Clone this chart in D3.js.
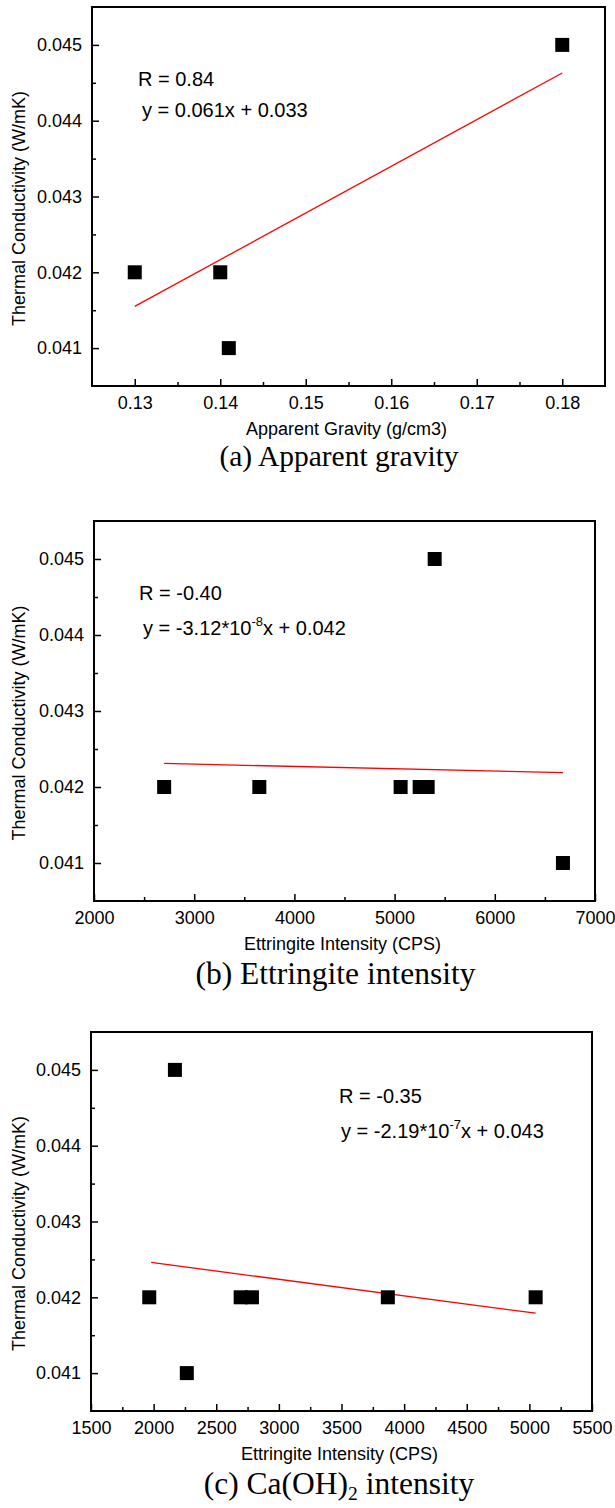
<!DOCTYPE html>
<html>
<head>
<meta charset="utf-8">
<script src="https://cdn.jsdelivr.net/npm/d3@7"></script>
<style>
  body { margin: 0; background: #fff; }
  .tick text { font-family: Arial, "Liberation Sans", sans-serif; font-size: 18px; fill: #000; }
  .axisText { font-family: Arial, "Liberation Sans", sans-serif; font-size: 18px; fill: #000; }
  .note { font-family: Arial, "Liberation Sans", sans-serif; font-size: 20px; fill: #000; }
  .caption { font-family: "Times New Roman", "Liberation Serif", serif; fill: #000; }
</style>
</head>
<body>
<div id="plot"></div>
<script>
// ---- data ----
var yTicks = [0.041, 0.042, 0.043, 0.044, 0.045];

// (a) apparent gravity
var aX = [0.13, 0.14, 0.141, 0.18];
var aY = [0.042, 0.042, 0.041, 0.045];
var aFitX = [0.13, 0.18];
var aFitY = [0.04155, 0.04463];
var aTicks = [0.13, 0.14, 0.15, 0.16, 0.17, 0.18];

// (b) ettringite intensity
var bX = [2700, 3650, 5060, 5250, 5330, 5400, 6680];
var bY = [0.042, 0.042, 0.042, 0.042, 0.042, 0.045, 0.041];
var bFitX = [2700, 6680];
var bFitY = [0.04231, 0.04219];
var bTicks = [2000, 3000, 4000, 5000, 6000, 7000];

// (c) Ca(OH)2 intensity
var cX = [1965, 2170, 2265, 2695, 2785, 3870, 5050];
var cY = [0.042, 0.045, 0.041, 0.042, 0.042, 0.042, 0.042];
var cFitX = [1980, 5050];
var cFitY = [0.04246, 0.04179];
var cTicks = [1500, 2000, 2500, 3000, 3500, 4000, 4500, 5000, 5500];

var svgWidth = 615;
var svgHeight = 1508;

var svg = d3.select("#plot")
  .append("svg")
  .attr("width", svgWidth)
  .attr("height", svgHeight)
  .style("background", "#fff");

var panels = [
  {
    xs: aX, ys: aY, fitX: aFitX, fitY: aFitY, ticks: aTicks,
    xDomain: [0.125, 0.185], fmt: d3.format(".2f"),
    box: { left: 92, right: 605, top: 7, bottom: 386 },
    xTitle: "Apparent Gravity (g/cm3)",
    note: { x: 138, y: 85.5, dx: 4, gap: 31 },
    r: "R = 0.84", eq: ["y = 0.061x + 0.033"],
    caption: { x: 339, y: 472, size: 29.5, parts: [["(a) Apparent gravity", false]] }
  },
  {
    xs: bX, ys: bY, fitX: bFitX, fitY: bFitY, ticks: bTicks,
    xDomain: [2000, 7000], fmt: d3.format("d"),
    box: { left: 94, right: 595, top: 521, bottom: 901 },
    xTitle: "Ettringite Intensity (CPS)",
    note: { x: 139, y: 600, dx: 4, gap: 34.5 },
    r: "R = -0.40", eq: ["y = -3.12*10", "-8", "x + 0.042"],
    caption: { x: 335.5, y: 990, size: 31.5, parts: [["(b) Ettringite intensity", false]] }
  },
  {
    xs: cX, ys: cY, fitX: cFitX, fitY: cFitY, ticks: cTicks,
    xDomain: [1500, 5500], fmt: d3.format("d"),
    box: { left: 91, right: 592, top: 1032, bottom: 1411 },
    xTitle: "Ettringite Intensity (CPS)",
    note: { x: 339, y: 1103, dx: 2, gap: 35 },
    r: "R = -0.35", eq: ["y = -2.19*10", "-7", "x + 0.043"],
    caption: { x: 339, y: 1500, size: 31.5, parts: [["(c) Ca(OH)", false], ["2", true], [" intensity", false]] }
  }
];

panels.forEach(function (p) {
  var b = p.box;
  var width = b.right - b.left;
  var height = b.bottom - b.top;

  var g = svg.append("g")
    .attr("transform", `translate(${b.left}, ${b.top})`);

  var xScale = d3.scaleLinear().domain(p.xDomain).range([0, width]);
  var yScale = d3.scaleLinear().domain([0.0405, 0.0455]).range([height, 0]);

  var step = p.ticks[1] - p.ticks[0];
  var xMinor = p.ticks.slice(0, -1).map(d => d + step / 2)
    .filter(d => d > p.xDomain[0] && d < p.xDomain[1]);
  var yMinor = yTicks.slice(0, -1).map(d => d + 0.0005);

  // minor ticks
  g.append("g")
    .attr("transform", `translate(0, ${height})`)
    .call(d3.axisBottom(xScale).tickValues(xMinor).tickSize(-4).tickFormat(""))
    .call(s => s.select(".domain").remove());
  g.append("g")
    .call(d3.axisLeft(yScale).tickValues(yMinor).tickSize(-4).tickFormat(""))
    .call(s => s.select(".domain").remove());

  // major ticks
  g.append("g")
    .attr("transform", `translate(0, ${height})`)
    .call(d3.axisBottom(xScale).tickValues(p.ticks).tickSize(-7).tickPadding(10).tickFormat(p.fmt))
    .call(s => s.select(".domain").remove());
  g.append("g")
    .call(d3.axisLeft(yScale).tickValues(yTicks).tickSize(-7).tickPadding(10).tickFormat(d3.format(".3f")))
    .call(s => s.select(".domain").remove());

  g.selectAll(".tick line").attr("stroke", "#000").attr("stroke-width", 1.5);

  // frame
  g.append("rect")
    .attr("width", width)
    .attr("height", height)
    .attr("fill", "none")
    .attr("stroke", "#000")
    .attr("stroke-width", 2);

  // fit line
  var fit = p.fitX.map((d, i) => [d, p.fitY[i]]);
  g.append("path")
    .datum(fit)
    .attr("d", d3.line().x(d => xScale(d[0])).y(d => yScale(d[1])))
    .attr("fill", "none")
    .attr("stroke", "#ff0000")
    .attr("stroke-width", 1.3);

  // points
  var pts = p.xs.map((d, i) => ({ x: d, y: p.ys[i] }));
  g.selectAll("rect.pt")
    .data(pts)
    .enter()
    .append("rect")
    .attr("class", "pt")
    .attr("x", d => xScale(d.x) - 7)
    .attr("y", d => yScale(d.y) - 7)
    .attr("width", 14)
    .attr("height", 14)
    .attr("fill", "#000");

  // axis titles
  g.append("text")
    .attr("class", "axisText")
    .attr("text-anchor", "middle")
    .attr("transform", `translate(${width / 2 - 2}, ${height + 48.5})`)
    .text(p.xTitle);

  g.append("text")
    .attr("class", "axisText")
    .attr("text-anchor", "middle")
    .attr("transform", `translate(${-b.left + 25}, ${height / 2 + 12}) rotate(-90)`)
    .text("Thermal Conductivity (W/mK)");

  // notes
  svg.append("text")
    .attr("class", "note")
    .attr("x", p.note.x)
    .attr("y", p.note.y)
    .text(p.r);

  var eq = svg.append("text")
    .attr("class", "note")
    .attr("x", p.note.x + p.note.dx)
    .attr("y", p.note.y + p.note.gap);
  eq.append("tspan").text(p.eq[0]);
  if (p.eq.length > 1) {
    eq.append("tspan").attr("dy", -9).attr("font-size", 13).text(p.eq[1]);
    eq.append("tspan").attr("dy", 9).text(p.eq[2]);
  }

  // caption
  var cap = svg.append("text")
    .attr("class", "caption")
    .attr("text-anchor", "middle")
    .attr("x", p.caption.x)
    .attr("y", p.caption.y)
    .attr("font-size", p.caption.size);
  p.caption.parts.forEach(function (part) {
    if (part[1]) {
      cap.append("tspan").attr("dy", 6).attr("font-size", p.caption.size * 0.62).text(part[0]);
    } else {
      cap.append("tspan").attr("dy", cap.selectAll("tspan").size() > 0 ? -6 : 0).text(part[0]);
    }
  });
});
</script>
</body>
</html>
